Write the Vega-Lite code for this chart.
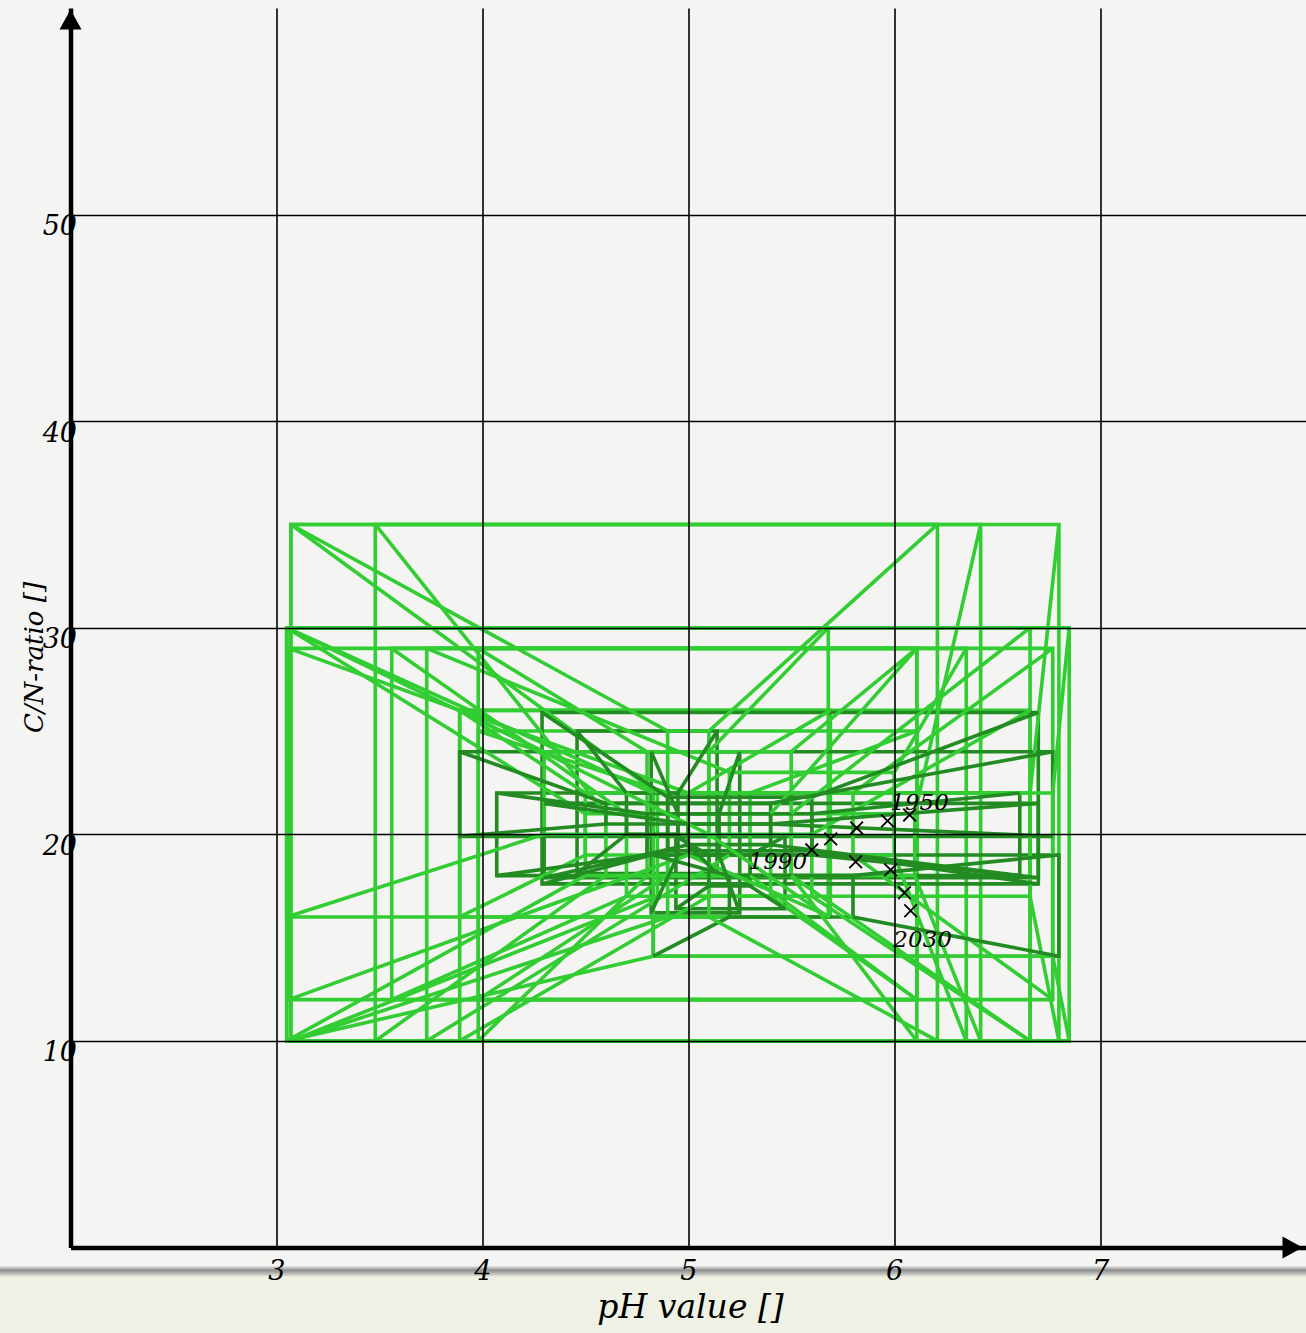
{
  "$schema": "https://vega.github.io/schema/vega-lite/v6.json",
  "width": 1235.5,
  "height": 1239.5,
  "autosize": "none",
  "padding": {"left": 70.5, "top": 8, "right": 0, "bottom": 85.5},
  "background": "#f4f4f2",
  "config": {
    "view": {"stroke": null},
    "axis": {
      "grid": true, "gridColor": "#000000", "gridWidth": 1.6, "gridOpacity": 1,
      "ticks": false, "domain": true, "domainColor": "#000000", "domainWidth": 4.5,
      "labelFont": "DejaVu Serif", "labelFontStyle": "italic", "labelFontSize": 27, "labelColor": "#000000",
      "titleFont": "DejaVu Serif", "titleFontStyle": "italic", "titleFontWeight": "normal", "titleColor": "#000000"
    }
  },
  "datasets": {
    "boxes": [
      {"g": "light", "x1": 3.07, "x2": 6.80, "y1": 10, "y2": 35, "ix1": 4.85, "ix2": 6.66, "iy1": 17, "iy2": 22},
      {"g": "light", "x1": 3.48, "x2": 6.42, "y1": 10, "y2": 35, "ix1": 4.6, "ix2": 6.1, "iy1": 18, "iy2": 21},
      {"g": "light", "x1": 3.07, "x2": 6.21, "y1": 10, "y2": 35, "ix1": 4.9, "ix2": 5.1, "iy1": 16, "iy2": 25},
      {"g": "light", "x1": 3.05, "x2": 6.85, "y1": 10, "y2": 30, "ix1": 4.83, "ix2": 6.77, "iy1": 14.1, "iy2": 22},
      {"g": "light", "x1": 3.05, "x2": 6.66, "y1": 10, "y2": 30, "ix1": 4.5, "ix2": 5.5, "iy1": 18, "iy2": 21},
      {"g": "light", "x1": 3.06, "x2": 6.77, "y1": 12, "y2": 29, "ix1": 5.0, "ix2": 5.8, "iy1": 19, "iy2": 22},
      {"g": "light", "x1": 3.56, "x2": 6.11, "y1": 12, "y2": 29, "ix1": 4.7, "ix2": 5.4, "iy1": 17, "iy2": 21},
      {"g": "light", "x1": 3.73, "x2": 6.35, "y1": 10, "y2": 29, "ix1": 5.2, "ix2": 6.0, "iy1": 19, "iy2": 23},
      {"g": "light", "x1": 3.98, "x2": 6.11, "y1": 10, "y2": 29, "ix1": 4.8, "ix2": 5.5, "iy1": 18, "iy2": 24},
      {"g": "light", "x1": 3.05, "x2": 5.68, "y1": 16, "y2": 30, "ix1": 4.3, "ix2": 5.1, "iy1": 20, "iy2": 24},
      {"g": "light", "x1": 3.89, "x2": 5.69, "y1": 16, "y2": 26, "ix1": 4.5, "ix2": 5.0, "iy1": 19, "iy2": 22},
      {"g": "light", "x1": 3.89, "x2": 6.66, "y1": 10, "y2": 26, "ix1": 5.1, "ix2": 5.6, "iy1": 17, "iy2": 20},
      {"g": "light", "x1": 3.98, "x2": 6.11, "y1": 12, "y2": 25, "ix1": 4.9, "ix2": 5.3, "iy1": 18, "iy2": 22},
      {"g": "dark", "x1": 4.29, "x2": 6.70, "y1": 17.6, "y2": 25.9, "ix1": 4.9, "ix2": 5.6, "iy1": 19.2, "iy2": 21.8},
      {"g": "dark", "x1": 3.89, "x2": 6.77, "y1": 19.9, "y2": 24.0, "ix1": 4.6, "ix2": 5.4, "iy1": 20.5, "iy2": 21.5},
      {"g": "dark", "x1": 4.07, "x2": 6.61, "y1": 18.0, "y2": 22.0, "ix1": 4.8, "ix2": 5.6, "iy1": 19, "iy2": 21},
      {"g": "dark", "x1": 4.83, "x2": 6.80, "y1": 14.1, "y2": 19.0, "ix1": 5.2, "ix2": 5.8, "iy1": 16, "iy2": 18},
      {"g": "dark", "x1": 4.82, "x2": 5.25, "y1": 16.2, "y2": 24.0, "ix1": 4.95, "ix2": 5.15, "iy1": 19, "iy2": 21},
      {"g": "dark", "x1": 4.94, "x2": 5.47, "y1": 16.4, "y2": 19.9, "ix1": 5.1, "ix2": 5.3, "iy1": 17.5, "iy2": 19},
      {"g": "dark", "x1": 4.46, "x2": 5.14, "y1": 18.1, "y2": 25.0, "ix1": 4.7, "ix2": 4.95, "iy1": 20, "iy2": 22},
      {"g": "dark", "x1": 4.30, "x2": 6.70, "y1": 17.9, "y2": 21.5, "ix1": 5.0, "ix2": 5.4, "iy1": 19.5, "iy2": 20.5}
    ],
    "track": [
      {"year": 1950, "ph": 6.075, "cn": 20.94},
      {"year": 1960, "ph": 5.968, "cn": 20.65},
      {"year": 1970, "ph": 5.818, "cn": 20.31},
      {"year": 1980, "ph": 5.692, "cn": 19.78},
      {"year": 1990, "ph": 5.600, "cn": 19.25},
      {"year": 2000, "ph": 5.813, "cn": 18.67},
      {"year": 2010, "ph": 5.983, "cn": 18.28},
      {"year": 2020, "ph": 6.050, "cn": 17.17},
      {"year": 2030, "ph": 6.080, "cn": 16.30}
    ]
  },
  "layer": [
    {
      "data": {"values": [{}]},
      "mark": {"type": "rect", "clip": false, "fill": "#eef1e3"},
      "encoding": {
        "x": {"datum": 1.5, "type": "quantitative", "scale": {"domain": [2, 8], "nice": false, "zero": false},
              "axis": {"values": [3, 4, 5, 6, 7], "format": "d", "labelPadding": 11, "title": "pH value []", "titleFontSize": 33, "titleX": 619.5, "titleY": 60, "titleBaseline": "middle", "titleAlign": "center", "zindex": 1}},
        "x2": {"datum": 8.5},
        "y": {"datum": -1.3, "type": "quantitative", "scale": {"domain": [0, 60], "nice": false, "zero": false},
              "axis": {"values": [10, 20, 30, 40, 50], "format": "d", "labelAlign": "right", "labelBaseline": "middle", "labelPadding": -6, "labelOffset": 12, "title": "C/N-ratio []", "titleFontSize": 26, "titleAngle": 270, "titleX": -36, "titleY": 649, "titleAlign": "center", "titleBaseline": "middle", "zindex": 1}},
        "y2": {"datum": -5}
      }
    },
    {
      "data": {"values": [{}]},
      "mark": {"type": "rect", "clip": false,
               "fill": {"gradient": "linear", "x1": 0, "y1": 0, "x2": 0, "y2": 1,
                        "stops": [{"offset": 0, "color": "#ffffff"}, {"offset": 0.45, "color": "#8c8c8c"}, {"offset": 1, "color": "#e2e4dc"}]}},
      "encoding": {
        "x": {"datum": 1.5, "type": "quantitative"},
        "x2": {"datum": 8.5},
        "y": {"datum": -0.85, "type": "quantitative"},
        "y2": {"datum": -1.4}
      }
    },
    {
      "data": {"name": "boxes"},
      "mark": {"type": "rect", "filled": false, "strokeWidth": 3.6},
      "encoding": {
        "x": {"field": "x1", "type": "quantitative"},
        "x2": {"field": "x2"},
        "y": {"field": "y1", "type": "quantitative"},
        "y2": {"field": "y2"},
        "color": {"field": "g", "type": "nominal", "scale": {"domain": ["light", "dark"], "range": ["#32cd32", "#228b22"]}, "legend": null}
      }
    },
    {
      "data": {"name": "boxes"},
      "mark": {"type": "rect", "filled": false, "strokeWidth": 3.6},
      "encoding": {
        "x": {"field": "ix1", "type": "quantitative"},
        "x2": {"field": "ix2"},
        "y": {"field": "iy1", "type": "quantitative"},
        "y2": {"field": "iy2"},
        "color": {"field": "g", "type": "nominal", "legend": null}
      }
    },
    {
      "data": {"name": "boxes"},
      "mark": {"type": "rule", "strokeWidth": 3.6},
      "encoding": {
        "x": {"field": "x1", "type": "quantitative"}, "x2": {"field": "ix1"},
        "y": {"field": "y1", "type": "quantitative"}, "y2": {"field": "iy1"},
        "color": {"field": "g", "type": "nominal", "legend": null}
      }
    },
    {
      "data": {"name": "boxes"},
      "mark": {"type": "rule", "strokeWidth": 3.6},
      "encoding": {
        "x": {"field": "x1", "type": "quantitative"}, "x2": {"field": "ix1"},
        "y": {"field": "y2", "type": "quantitative"}, "y2": {"field": "iy2"},
        "color": {"field": "g", "type": "nominal", "legend": null}
      }
    },
    {
      "data": {"name": "boxes"},
      "mark": {"type": "rule", "strokeWidth": 3.6},
      "encoding": {
        "x": {"field": "x2", "type": "quantitative"}, "x2": {"field": "ix2"},
        "y": {"field": "y1", "type": "quantitative"}, "y2": {"field": "iy1"},
        "color": {"field": "g", "type": "nominal", "legend": null}
      }
    },
    {
      "data": {"name": "boxes"},
      "mark": {"type": "rule", "strokeWidth": 3.6},
      "encoding": {
        "x": {"field": "x2", "type": "quantitative"}, "x2": {"field": "ix2"},
        "y": {"field": "y2", "type": "quantitative"}, "y2": {"field": "iy2"},
        "color": {"field": "g", "type": "nominal", "legend": null}
      }
    },
    {
      "data": {"name": "track"},
      "mark": {"type": "point", "shape": "M-1,-1L1,1M-1,1L1,-1", "filled": false, "stroke": "#000000", "strokeWidth": 1.8, "size": 160, "opacity": 1},
      "encoding": {
        "x": {"field": "ph", "type": "quantitative"},
        "y": {"field": "cn", "type": "quantitative"}
      }
    },
    {
      "data": {"name": "track"},
      "transform": [{"filter": "datum.year == 1950"}],
      "mark": {"type": "text", "font": "DejaVu Serif", "fontStyle": "italic", "fontSize": 23, "color": "#000000", "dx": 10, "dy": -12, "align": "center", "baseline": "middle"},
      "encoding": {
        "x": {"field": "ph", "type": "quantitative"},
        "y": {"field": "cn", "type": "quantitative"},
        "text": {"field": "year", "type": "nominal"}
      }
    },
    {
      "data": {"name": "track"},
      "transform": [{"filter": "datum.year == 1990"}],
      "mark": {"type": "text", "font": "DejaVu Serif", "fontStyle": "italic", "fontSize": 23, "color": "#000000", "dx": -34, "dy": 12, "align": "center", "baseline": "middle"},
      "encoding": {
        "x": {"field": "ph", "type": "quantitative"},
        "y": {"field": "cn", "type": "quantitative"},
        "text": {"field": "year", "type": "nominal"}
      }
    },
    {
      "data": {"name": "track"},
      "transform": [{"filter": "datum.year == 2030"}],
      "mark": {"type": "text", "font": "DejaVu Serif", "fontStyle": "italic", "fontSize": 23, "color": "#000000", "dx": 12, "dy": 29, "align": "center", "baseline": "middle"},
      "encoding": {
        "x": {"field": "ph", "type": "quantitative"},
        "y": {"field": "cn", "type": "quantitative"},
        "text": {"field": "year", "type": "nominal"}
      }
    },
    {
      "data": {"values": [{}]},
      "mark": {"type": "point", "shape": "M0,-1L-0.55,0L0.55,0Z", "filled": true, "fill": "#000000", "strokeWidth": 0, "size": 1600, "opacity": 1, "clip": false},
      "encoding": {
        "x": {"datum": 2, "type": "quantitative"},
        "y": {"datum": 58.96, "type": "quantitative"}
      }
    },
    {
      "data": {"values": [{}]},
      "mark": {"type": "point", "shape": "M1,0L0,-0.55L0,0.55Z", "filled": true, "fill": "#000000", "strokeWidth": 0, "size": 1600, "opacity": 1, "clip": false},
      "encoding": {
        "x": {"datum": 7.886, "type": "quantitative"},
        "y": {"datum": 0, "type": "quantitative"}
      }
    }
  ]
}
